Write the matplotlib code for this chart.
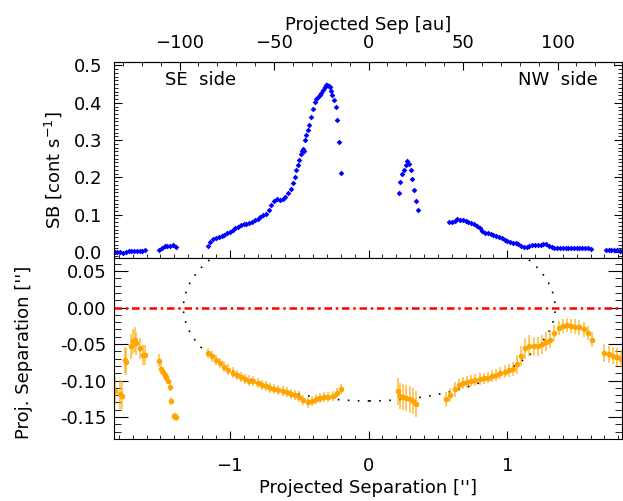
import numpy as np
import matplotlib.pyplot as plt
from matplotlib.patches import Ellipse
from matplotlib.ticker import MultipleLocator, FixedLocator, FormatStrFormatter

AU_PER_ARCSEC = 73.4   # conversao arcsec -> au (distancia ~73 pc)

# ---------------- painel superior: perfil de brilho superficial ----------------
# SE side, ruido do ceu
sb_x1 = [-1.83, -1.81, -1.79, -1.77, -1.75, -1.73, -1.71, -1.69, -1.67, -1.65, -1.63, -1.61]
sb_y1 = [0.000, -0.001, 0.000, -0.002, 0.001, 0.002, 0.002, 0.003, 0.003, 0.002, 0.004, 0.005]

sb_x2 = [-1.51, -1.49, -1.47, -1.45, -1.43, -1.41, -1.39]
sb_y2 = [0.006, 0.011, 0.015, 0.016, 0.017, 0.020, 0.013]

# SE side, disco
sb_x3 = [-1.16, -1.14, -1.12, -1.10, -1.08, -1.06, -1.04, -1.02, -1.00, -0.98,
         -0.96, -0.94, -0.92, -0.90, -0.88, -0.86, -0.84, -0.82, -0.80, -0.78,
         -0.76, -0.74, -0.72, -0.70, -0.68, -0.66, -0.64, -0.62, -0.60, -0.58,
         -0.56, -0.545, -0.533, -0.520, -0.510, -0.501, -0.489, -0.480, -0.473, -0.465,
         -0.455, -0.449, -0.439, -0.429, -0.416, -0.401, -0.388, -0.376, -0.365, -0.352,
         -0.340, -0.328, -0.316, -0.306, -0.297, -0.288, -0.280, -0.270, -0.261, -0.249,
         -0.237, -0.225, -0.213, -0.199]
sb_y3 = [0.017, 0.028, 0.034, 0.038, 0.041, 0.044, 0.047, 0.051, 0.055, 0.060,
         0.064, 0.068, 0.072, 0.074, 0.075, 0.077, 0.081, 0.085, 0.089, 0.094,
         0.098, 0.103, 0.112, 0.125, 0.138, 0.141, 0.140, 0.141, 0.148, 0.158,
         0.170, 0.185, 0.200, 0.219, 0.232, 0.246, 0.264, 0.272, 0.277, 0.270,
         0.300, 0.313, 0.327, 0.340, 0.362, 0.384, 0.402, 0.410, 0.415, 0.421,
         0.427, 0.435, 0.442, 0.447, 0.449, 0.446, 0.442, 0.432, 0.422, 0.408,
         0.390, 0.355, 0.295, 0.212]

# NW side, pico interno
sb_x4 = [0.217, 0.229, 0.244, 0.255, 0.267, 0.280, 0.291, 0.303, 0.316, 0.330, 0.341, 0.356]
sb_y4 = [0.159, 0.188, 0.208, 0.221, 0.234, 0.243, 0.237, 0.221, 0.196, 0.166, 0.137, 0.114]

# NW side, disco externo
sb_x5 = [0.58, 0.60, 0.62, 0.64, 0.66, 0.68, 0.70, 0.72, 0.74, 0.76,
         0.78, 0.80, 0.82, 0.84, 0.86, 0.88, 0.90, 0.92, 0.94, 0.96,
         0.98, 1.00, 1.02, 1.04, 1.06, 1.08, 1.10, 1.12, 1.14, 1.16,
         1.18, 1.20, 1.22, 1.24, 1.26, 1.28, 1.30, 1.32, 1.34, 1.36,
         1.38, 1.40, 1.42, 1.44, 1.46, 1.48, 1.50, 1.52, 1.54, 1.56,
         1.58, 1.60]
sb_y5 = [0.081, 0.081, 0.084, 0.088, 0.087, 0.085, 0.083, 0.081, 0.079, 0.076,
         0.070, 0.064, 0.057, 0.051, 0.050, 0.049, 0.047, 0.044, 0.041, 0.037,
         0.033, 0.029, 0.027, 0.025, 0.024, 0.022, 0.016, 0.013, 0.013, 0.015,
         0.018, 0.019, 0.020, 0.020, 0.021, 0.021, 0.017, 0.013, 0.010, 0.010,
         0.010, 0.010, 0.010, 0.011, 0.011, 0.011, 0.010, 0.011, 0.011, 0.010,
         0.010, 0.009]

sb_x6 = [1.71, 1.73, 1.75, 1.77, 1.79, 1.81, 1.83]
sb_y6 = [0.006, 0.006, 0.005, 0.005, 0.005, 0.004, 0.004]

# ---------------- painel inferior: separacao projetada (spine) ----------------
ps_x1 = [-1.829, -1.793, -1.781, -1.757, -1.745, -1.709, -1.697, -1.685, -1.673, -1.649,
         -1.625, -1.613, -1.510, -1.493, -1.481, -1.469, -1.457, -1.445, -1.433, -1.421,
         -1.404, -1.390]
ps_y1 = [-0.114, -0.119, -0.121, -0.072, -0.074, -0.053, -0.046, -0.044, -0.049, -0.056,
         -0.065, -0.065, -0.073, -0.084, -0.088, -0.093, -0.095, -0.100, -0.109, -0.128,
         -0.149, -0.150]
ps_e1 = [0.019, 0.020, 0.020, 0.018, 0.018, 0.017, 0.017, 0.017, 0.016, 0.015,
         0.014, 0.014, 0.009, 0.007, 0.006, 0.006, 0.006, 0.005, 0.005, 0.005,
         0.005, 0.005]

ps_x2 = [-1.16, -1.13, -1.10, -1.07, -1.04, -1.01, -0.98, -0.95, -0.92, -0.89,
         -0.86, -0.83, -0.80, -0.77, -0.74, -0.71, -0.68, -0.65, -0.62, -0.59,
         -0.56, -0.53, -0.50, -0.47, -0.44, -0.41, -0.38, -0.35, -0.32, -0.29,
         -0.26, -0.23, -0.20]
ps_y2 = [-0.062, -0.067, -0.072, -0.076, -0.081, -0.085, -0.089, -0.092, -0.095, -0.098,
         -0.100, -0.101, -0.103, -0.106, -0.108, -0.110, -0.112, -0.113, -0.114, -0.116,
         -0.118, -0.120, -0.122, -0.127, -0.130, -0.128, -0.125, -0.124, -0.123, -0.123,
         -0.121, -0.117, -0.112]
ps_e2 = [0.007] * 33

ps_x3 = [0.212, 0.224, 0.248, 0.272, 0.296, 0.320, 0.344]
ps_y3 = [-0.115, -0.121, -0.123, -0.124, -0.126, -0.128, -0.132]
ps_e3 = [0.018, 0.018, 0.018, 0.018, 0.018, 0.018, 0.018]

ps_x4 = [0.56, 0.59, 0.62, 0.65, 0.68, 0.71, 0.74, 0.77, 0.80, 0.83,
         0.86, 0.89, 0.92, 0.95, 0.98, 1.01, 1.04, 1.07, 1.10, 1.13,
         1.16, 1.19, 1.22, 1.25, 1.28, 1.31, 1.34, 1.37, 1.40, 1.43,
         1.46, 1.49, 1.52, 1.55, 1.58, 1.61]
ps_y4 = [-0.126, -0.120, -0.112, -0.106, -0.103, -0.102, -0.100, -0.099, -0.098, -0.097,
         -0.096, -0.094, -0.092, -0.090, -0.088, -0.086, -0.084, -0.078, -0.066, -0.056,
         -0.052, -0.053, -0.053, -0.050, -0.047, -0.044, -0.035, -0.028, -0.025, -0.024,
         -0.025, -0.026, -0.027, -0.030, -0.035, -0.044]
ps_e4 = [0.010, 0.010, 0.010, 0.008, 0.008, 0.008, 0.008, 0.008, 0.008, 0.008,
         0.008, 0.008, 0.008, 0.008, 0.009, 0.009, 0.010, 0.013, 0.014, 0.014,
         0.014, 0.013, 0.013, 0.013, 0.013, 0.012, 0.011, 0.010, 0.010, 0.010,
         0.010, 0.010, 0.010, 0.010, 0.010, 0.010]

ps_x5 = [1.70, 1.73, 1.76, 1.79, 1.82]
ps_y5 = [-0.062, -0.064, -0.066, -0.068, -0.070]
ps_e5 = [0.012, 0.012, 0.012, 0.012, 0.012]

# elipse do anel (modelo)
ring_center = (0.005, 0.0)
ring_a = 1.34
ring_b = 0.128

au_ticks = [-100, -50, 0, 50, 100]

FS = 13

fig = plt.figure(figsize=(6.23, 5.01), dpi=100)
ax1 = fig.add_axes([0.183, 0.485, 0.815, 0.391])
ax2 = fig.add_axes([0.183, 0.124, 0.815, 0.361], sharex=ax1)

# Painel 1: SB
for xs, ys in [(sb_x1, sb_y1), (sb_x2, sb_y2), (sb_x3, sb_y3),
               (sb_x4, sb_y4), (sb_x5, sb_y5), (sb_x6, sb_y6)]:
    ax1.plot(xs, ys, 'D', color='blue', ms=2.9, mew=0)

ax1.set_xlim(-1.835, 1.825)
ax1.set_ylim(-0.016, 0.509)
ax1.yaxis.set_major_locator(MultipleLocator(0.1))
ax1.yaxis.set_minor_locator(MultipleLocator(0.01))
ax1.yaxis.set_major_formatter(FormatStrFormatter('%.1f'))
ax1.xaxis.set_major_locator(MultipleLocator(1))
ax1.xaxis.set_minor_locator(MultipleLocator(0.1))
ax1.tick_params(which='both', direction='in', top=False, right=True, labelbottom=False)
ax1.tick_params(axis='y', which='major', length=6, pad=8.5, labelsize=FS)
ax1.tick_params(axis='y', which='minor', length=3)
ax1.tick_params(axis='x', which='major', length=6)
ax1.tick_params(axis='x', which='minor', length=3)
ax1.set_ylabel('SB [cont s$^{-1}$]', fontsize=FS)
ax1.yaxis.set_label_coords(-0.098, 0.45)

ax1.text(-1.47, 0.46, 'SE  side', fontsize=FS, va='center', ha='left')
ax1.text(1.65, 0.46, 'NW  side', fontsize=FS, va='center', ha='right')

secax = ax1.secondary_xaxis('top', functions=(lambda x: x * AU_PER_ARCSEC,
                                              lambda a: a / AU_PER_ARCSEC))
secax.xaxis.set_major_locator(FixedLocator(au_ticks))
secax.xaxis.set_minor_locator(MultipleLocator(10))
secax.tick_params(which='both', direction='in', labelsize=FS, pad=7)
secax.tick_params(which='major', length=6)
secax.tick_params(which='minor', length=3)
secax.set_xlabel('Projected Sep [au]', fontsize=FS, labelpad=3)

# Painel 2: separacao projetada
ax2.add_patch(Ellipse(ring_center, 2 * ring_a, 2 * ring_b, fill=False,
                      ec='black', lw=1.2, ls=(0, (1, 5))))
ax2.axhline(0.0, color='red', lw=1.8, dashes=(3, 1.5, 1, 1.5))

for xs, ys, es in [(ps_x1, ps_y1, ps_e1), (ps_x2, ps_y2, ps_e2), (ps_x3, ps_y3, ps_e3),
                   (ps_x4, ps_y4, ps_e4), (ps_x5, ps_y5, ps_e5)]:
    ax2.errorbar(xs, ys, yerr=es, fmt='o', color='orange', ms=4, mew=0,
                 ecolor=(1.0, 0.65, 0.0, 0.7), elinewidth=1.2, capsize=6, capthick=1.3)

ax2.set_ylim(-0.18, 0.068)
ax2.yaxis.set_major_locator(MultipleLocator(0.05))
ax2.yaxis.set_minor_locator(MultipleLocator(0.01))
ax2.yaxis.set_major_formatter(FormatStrFormatter('%.2f'))
ax2.xaxis.set_major_locator(MultipleLocator(1))
ax2.xaxis.set_minor_locator(MultipleLocator(0.1))
ax2.tick_params(which='both', direction='in', top=False, right=True, labelsize=FS)
ax2.tick_params(axis='y', which='major', length=10, pad=5.5)
ax2.tick_params(axis='y', which='minor', length=5)
ax2.tick_params(axis='x', which='major', length=6, pad=13)
ax2.tick_params(axis='x', which='minor', length=3)
ax2.set_xlabel("Projected Separation ['']", fontsize=FS, labelpad=3)
ax2.set_ylabel("Proj. Separation ['']", fontsize=FS)
ax2.yaxis.set_label_coords(-0.159, 0.48)

fig.savefig('out.png', dpi=100)
plt.close(fig)
